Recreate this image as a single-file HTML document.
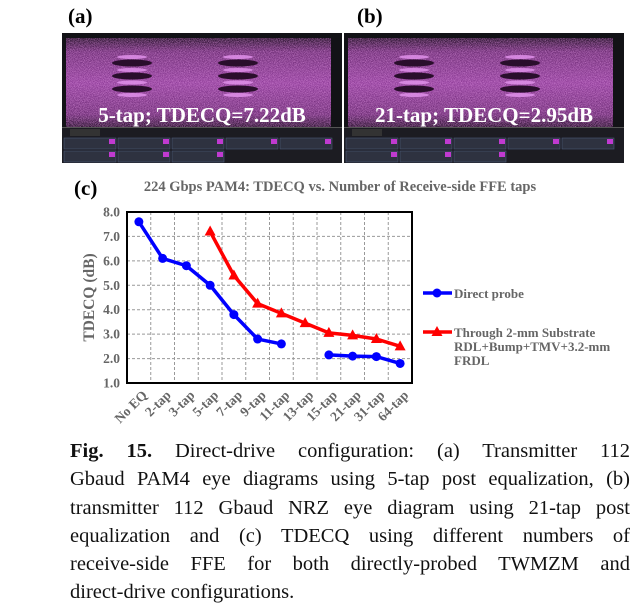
<!DOCTYPE html>
<html><head><meta charset="utf-8"><style>
body{margin:0;background:#fff;width:639px;height:611px;overflow:hidden;position:relative;font-family:"Liberation Serif",serif}
.lbl{position:absolute;font-weight:bold;font-size:21px;color:#000}
.cap{position:absolute;left:70px;width:560px;font-size:20.5px;color:#111;line-height:28.3px;top:437px}
.cap div{text-align:justify;text-align-last:justify;white-space:nowrap}
.cap div.last{text-align-last:left}
</style></head><body>
<div class="lbl" style="left:68px;top:4px">(a)</div>
<div class="lbl" style="left:357px;top:4px">(b)</div>
<div class="lbl" style="left:74px;top:176px">(c)</div>

<svg width="639" height="170" style="position:absolute;left:0;top:0">
<defs>
<filter id="nz" x="0" y="0" width="1" height="1"><feTurbulence type="fractalNoise" baseFrequency="1.2" numOctaves="2" seed="3"/><feColorMatrix values="0 0 0 0 0.85  0 0 0 0 0.35  0 0 0 0 0.85  0 0 0 2 -0.6"/></filter>
<linearGradient id="band" x1="0" y1="0" x2="0" y2="1"><stop offset="0" stop-color="#1e0c22"/><stop offset="0.15" stop-color="#6a2a72"/><stop offset="0.5" stop-color="#8e3c98"/><stop offset="0.85" stop-color="#6a2a72"/><stop offset="1" stop-color="#1e0c22"/></linearGradient>
<g id="eyepanel">
<rect x="0" y="33" width="280" height="130" fill="#121216"/>
<rect x="4" y="38" width="265" height="90" fill="url(#band)"/>
<rect x="4" y="38" width="265" height="90" filter="url(#nz)" opacity="0.6"/>
<g fill="#2a0e2c">
<ellipse cx="70" cy="63" rx="20" ry="3.5"/><ellipse cx="70" cy="76" rx="20" ry="3.5"/><ellipse cx="70" cy="89" rx="20" ry="3.5"/>
<ellipse cx="176" cy="63" rx="20" ry="3.5"/><ellipse cx="176" cy="76" rx="20" ry="3.5"/><ellipse cx="176" cy="89" rx="20" ry="3.5"/>
</g>
<g fill="#e090ea" opacity="0.85">
<ellipse cx="70" cy="57" rx="15" ry="2"/><ellipse cx="70" cy="70" rx="15" ry="2"/><ellipse cx="70" cy="82.5" rx="15" ry="2"/><ellipse cx="70" cy="95" rx="15" ry="2"/>
<ellipse cx="176" cy="57" rx="15" ry="2"/><ellipse cx="176" cy="70" rx="15" ry="2"/><ellipse cx="176" cy="82.5" rx="15" ry="2"/><ellipse cx="176" cy="95" rx="15" ry="2"/>
</g>
<rect x="0" y="127" width="280" height="36" fill="#1c1c22"/>
<rect x="0" y="127" width="280" height="1" fill="#555"/>
<rect x="8" y="129" width="30" height="7" fill="#333"/>
<g fill="#2e3240" stroke="#4a5a78" stroke-width="0.6">
<rect x="2" y="138" width="52" height="11"/><rect x="56" y="138" width="52" height="11"/><rect x="110" y="138" width="52" height="11"/><rect x="164" y="138" width="52" height="11"/><rect x="218" y="138" width="52" height="11"/>
<rect x="2" y="151" width="52" height="11"/><rect x="56" y="151" width="52" height="11"/><rect x="110" y="151" width="52" height="11"/>
</g>
<g fill="#c03ad0"><rect x="47" y="139" width="6" height="5"/><rect x="101" y="139" width="6" height="5"/><rect x="155" y="139" width="6" height="5"/><rect x="209" y="139" width="6" height="5"/><rect x="263" y="139" width="6" height="5"/><rect x="47" y="152" width="6" height="5"/><rect x="101" y="152" width="6" height="5"/><rect x="155" y="152" width="6" height="5"/></g>
</g>
</defs>
<use href="#eyepanel" x="62"/>
<use href="#eyepanel" x="344"/>
<text x="202" y="122" text-anchor="middle" font-family="Liberation Serif" font-weight="bold" font-size="21" fill="#fff">5-tap; TDECQ=7.22dB</text>
<text x="484" y="122" text-anchor="middle" font-family="Liberation Serif" font-weight="bold" font-size="21" fill="#fff">21-tap; TDECQ=2.95dB</text>
</svg>

<svg id="chart" width="639" height="260" style="position:absolute;left:0;top:170px"></svg>

<div class="cap">
<div><b>Fig. 15.</b> Direct-drive configuration: (a) Transmitter 112</div>
<div>Gbaud PAM4 eye diagrams using 5-tap post equalization, (b)</div>
<div>transmitter 112 Gbaud NRZ eye diagram using 21-tap post</div>
<div>equalization and (c) TDECQ using different numbers of</div>
<div>receive-side FFE for both directly-probed TWMZM and</div>
<div class="last">direct-drive configurations.</div>
</div>

<script>
const categories=["No EQ","2-tap","3-tap","5-tap","7-tap","9-tap","11-tap","13-tap","15-tap","21-tap","31-tap","64-tap"];
const directProbe=[7.6,6.1,5.8,5.0,3.8,2.8,2.6,null,2.15,2.1,2.08,1.8];
const throughSubstrate=[null,null,null,7.2,5.4,4.25,3.85,3.45,3.05,2.95,2.8,2.5];
const yTicks=[1.0,2.0,3.0,4.0,5.0,6.0,7.0,8.0];
const NS="http://www.w3.org/2000/svg";
const svg=document.getElementById('chart');
const L=127,R=412,T=42,B=213,ymin=1,ymax=8;
const bw=(R-L)/categories.length;
const xs=i=>L+bw*(i+0.5);
const ys=v=>B-(v-ymin)/(ymax-ymin)*(B-T);
function el(t,a){const e=document.createElementNS(NS,t);for(const k in a)e.setAttribute(k,a[k]);svg.appendChild(e);return e;}
let t=el('text',{x:340,y:21,'text-anchor':'middle','font-family':'Liberation Serif','font-weight':'bold','font-size':14.5,fill:'#666'});
t.textContent="224 Gbps PAM4: TDECQ vs. Number of Receive-side FFE taps";


yTicks.forEach(v=>{
  const g=el('line',{x1:L,x2:R,y1:ys(v),y2:ys(v),stroke:'#999','stroke-dasharray':'3,2'});
  
  
  const l=el('text',{x:L-7,y:ys(v)+4.5,'text-anchor':'end','font-family':'Liberation Serif','font-weight':'bold','font-size':13.5,fill:'#666'});
  l.textContent=v.toFixed(1);
  
  
});
for(let i=1;i<categories.length;i++){
  const g=el('line',{x1:L+bw*i,x2:L+bw*i,y1:T,y2:B,stroke:'#999','stroke-dasharray':'3,2'});
  
  
}
categories.forEach((c,i)=>{
  const x=xs(i)+9,y=B+13;
  const l=el('text',{x:x,y:y,'text-anchor':'end','font-family':'Liberation Serif','font-weight':'bold','font-size':13.5,fill:'#666',transform:`rotate(-45 ${x} ${y})`});
  l.textContent=c;
  
  
});
const fr=el('rect',{x:L,y:T,width:R-L,height:B-T,fill:'none',stroke:'#000','stroke-width':2});


const yt=el('text',{x:94,y:(T+B)/2,'text-anchor':'middle','font-family':'Liberation Serif','font-weight':'bold','font-size':15.5,fill:'#666',transform:`rotate(-90 94 ${(T+B)/2})`});
yt.textContent="TDECQ (dB)";


function series(vals,color,marker,name){
  let segs=[],cur=[];
  vals.forEach((v,i)=>{if(v==null){if(cur.length)segs.push(cur);cur=[];}else cur.push([xs(i),ys(v)]);});
  if(cur.length)segs.push(cur);
  segs.forEach(s=>{
    const p=el('polyline',{points:s.map(q=>q.join(',')).join(' '),fill:'none',stroke:color,'stroke-width':3.5,'stroke-linejoin':'round'});
    
    
  });
  vals.forEach((v,i)=>{
    if(v==null)return;
    const x=xs(i),y=ys(v);let m;
    if(marker==='circle')m=el('circle',{cx:x,cy:y,r:4.5,fill:color});
    else m=el('polygon',{points:`${x},${y-6} ${x-5.5},${y+4} ${x+5.5},${y+4}`,fill:color});
    
    
  });
}
series(directProbe,'#0000ff','circle','direct-probe');
series(throughSubstrate,'#ff0000','tri','through-substrate');
const l1=el('line',{x1:423,x2:452,y1:123,y2:123,stroke:'#0000ff','stroke-width':3.5});


const c1=el('circle',{cx:437,cy:123,r:4.5,fill:'#0000ff'});


const lt1=el('text',{x:454,y:128,'font-family':'Liberation Serif','font-weight':'bold','font-size':13,fill:'#666'});
lt1.textContent="Direct probe";


const l2=el('line',{x1:423,x2:452,y1:162,y2:162,stroke:'#ff0000','stroke-width':3.5});


const c2=el('polygon',{points:'437,156 431.5,166 442.5,166',fill:'#ff0000'});


["Through 2-mm Substrate","RDL+Bump+TMV+3.2-mm","FRDL"].forEach((s,i)=>{
  const tt=el('text',{x:454,y:167+i*14,'font-family':'Liberation Serif','font-weight':'bold','font-size':13,fill:'#666'});
  tt.textContent=s;
  
  
});
</script>
</body></html>
